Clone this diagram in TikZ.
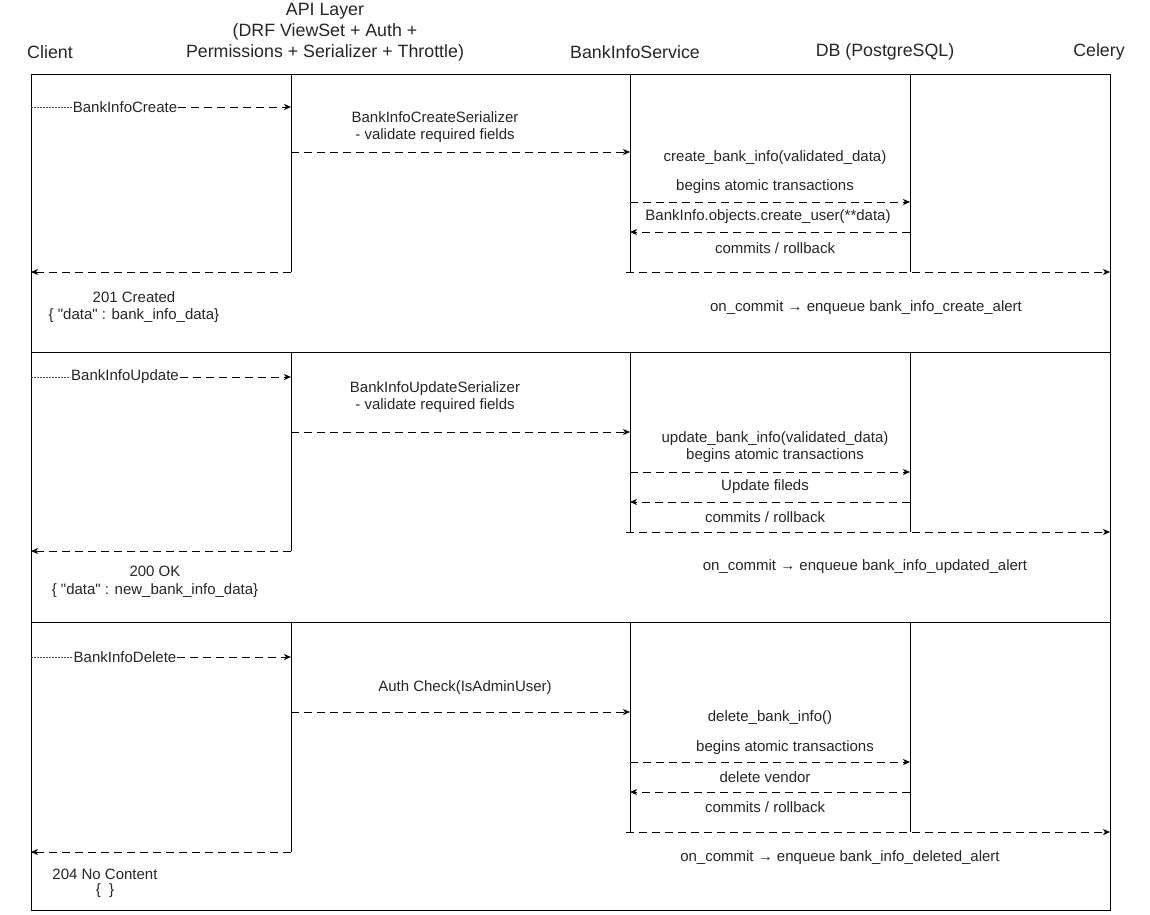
\documentclass[tikz,border=0pt]{standalone}
\usepackage{fontspec}
\setmainfont{Liberation Sans}
\newfontfamily\libsans{Liberation Sans}
\usetikzlibrary{arrows.meta}
\begin{document}
\begin{tikzpicture}[x=1pt,y=-1pt,
  txt/.style={font=\libsans\fontsize{15}{17.5}\selectfont, text=black!85, inner sep=1pt, align=center},
  hdr/.style={font=\libsans\fontsize{17.8}{21}\selectfont, text=black!85, inner sep=0pt, align=center},
  line/.style={line width=0.9pt, draw=black},
  msg/.style={line width=0.8pt, dash pattern=on 8pt off 5pt, -{Stealth[length=7pt,width=6pt,inset=2pt]}},
  dotseg/.style={line width=0.8pt, draw=black!70, dash pattern=on 1.5pt off 1.5pt}
]
\useasboundingbox (0,0) rectangle (1150,914);
% frame and section dividers
\coordinate (TL) at (31,74);
\coordinate (BR) at (1110,910);
\draw[line] (TL) rectangle (BR);
\coordinate (d1l) at (31,352); \coordinate (d1r) at (1110,352);
\coordinate (d2l) at (31,622); \coordinate (d2r) at (1110,622);
\draw[line] (d1l) -- (d1r);
\draw[line] (d2l) -- (d2r);

% headers
\node[hdr] (hClient) at (50,52) {Client};
\node[hdr] (hAPI) at (325,32) {API Layer\\(DRF ViewSet + Auth +\\Permissions + Serializer + Throttle)};
\node[hdr] (hSvc) at (635,52) {BankInfoService};
\node[hdr] (hDB) at (885,52) {DB (PostgreSQL)};
\node[hdr] (hCel) at (1099,52) {Celery};

% ================= Section 1 =================
\coordinate (a1t) at (291,74);  \coordinate (a1b) at (291,272);
\coordinate (s1t) at (630,74);  \coordinate (s1b) at (630,272);
\coordinate (b1t) at (910,74);  \coordinate (b1b) at (910,272);
\draw[line] (a1t) -- (a1b);
\draw[line] (s1t) -- (s1b);
\draw[line] (b1t) -- (b1b);

\coordinate (c1s) at (31,107); \coordinate (c1e) at (291,107);
\node[txt] (m1) at (125,107) {BankInfoCreate};
\draw[dotseg] (c1s) -- (m1.west);
\draw[msg] (m1.east) -- (c1e);

\node[txt] (ser1) at (435,127) {BankInfoCreateSerializer\\- validate required fields};
\coordinate (p1a) at (291,152); \coordinate (p1b) at (630,152);
\draw[msg] (p1a) -- (p1b);

\node[txt] (cr1) at (775,158) {create\_bank\_info(validated\_data)};
\node[txt] (bg1) at (765,187) {begins atomic transactions};
\coordinate (q1a) at (630,202); \coordinate (q1b) at (910,202);
\draw[msg] (q1a) -- (q1b);
\node[txt] (ob1) at (768,217) {BankInfo.objects.create\_user(**data)};
\coordinate (r1a) at (910,232); \coordinate (r1b) at (630,232);
\draw[msg] (r1a) -- (r1b);
\node[txt] (cm1) at (775,248) {commits / rollback};
\coordinate (k1a) at (626,272); \coordinate (k1b) at (1110,272);
\draw[msg] (k1a) -- (k1b);
\node[txt] (oc1) at (866,308) {on\_commit → enqueue bank\_info\_create\_alert};

\coordinate (ret1a) at (291,272); \coordinate (ret1b) at (31,272);
\draw[msg] (ret1a) -- (ret1b);
\node[txt] (rs1) at (134,307) {201 Created\\\{ "data" : bank\_info\_data\}};

% ================= Section 2 =================
\coordinate (a2t) at (291,352);  \coordinate (a2b) at (291,551);
\coordinate (s2t) at (630,352);  \coordinate (s2b) at (630,532);
\coordinate (b2t) at (910,352);  \coordinate (b2b) at (910,532);
\draw[line] (a2t) -- (a2b);
\draw[line] (s2t) -- (s2b);
\draw[line] (b2t) -- (b2b);

\coordinate (c2s) at (31,377); \coordinate (c2e) at (291,377);
\node[txt] (m2) at (125,377) {BankInfoUpdate};
\draw[dotseg] (c2s) -- (m2.west);
\draw[msg] (m2.east) -- (c2e);

\node[txt] (ser2) at (435,397) {BankInfoUpdateSerializer\\- validate required fields};
\coordinate (p2a) at (291,432); \coordinate (p2b) at (630,432);
\draw[msg] (p2a) -- (p2b);

\node[txt] (cr2) at (775,447) {update\_bank\_info(validated\_data)\\begins atomic transactions};
\coordinate (q2a) at (630,472); \coordinate (q2b) at (910,472);
\draw[msg] (q2a) -- (q2b);
\node[txt] (uf2) at (765,487) {Update fileds};
\coordinate (r2a) at (910,502); \coordinate (r2b) at (630,502);
\draw[msg] (r2a) -- (r2b);
\node[txt] (cm2) at (765,517) {commits / rollback};
\coordinate (k2a) at (626,532); \coordinate (k2b) at (1110,532);
\draw[msg] (k2a) -- (k2b);
\node[txt] (oc2) at (865,567) {on\_commit → enqueue bank\_info\_updated\_alert};

\coordinate (ret2a) at (291,551); \coordinate (ret2b) at (31,551);
\draw[msg] (ret2a) -- (ret2b);
\node[txt] (rs2) at (155,582) {200 OK\\\{ "data" : new\_bank\_info\_data\}};

% ================= Section 3 =================
\coordinate (a3t) at (291,622);  \coordinate (a3b) at (291,852);
\coordinate (s3t) at (630,622);  \coordinate (s3b) at (630,832);
\coordinate (b3t) at (910,622);  \coordinate (b3b) at (910,832);
\draw[line] (a3t) -- (a3b);
\draw[line] (s3t) -- (s3b);
\draw[line] (b3t) -- (b3b);

\coordinate (c3s) at (31,657); \coordinate (c3e) at (291,657);
\node[txt] (m3) at (125,657) {BankInfoDelete};
\draw[dotseg] (c3s) -- (m3.west);
\draw[msg] (m3.east) -- (c3e);

\node[txt] (au3) at (465,688) {Auth Check(IsAdminUser)};
\coordinate (p3a) at (291,712); \coordinate (p3b) at (630,712);
\draw[msg] (p3a) -- (p3b);

\node[txt] (dl3) at (770,718) {delete\_bank\_info()};
\node[txt] (bg3) at (785,748) {begins atomic transactions};
\coordinate (q3a) at (630,762); \coordinate (q3b) at (910,762);
\draw[msg] (q3a) -- (q3b);
\node[txt] (dv3) at (765,777) {delete vendor};
\coordinate (r3a) at (910,792); \coordinate (r3b) at (630,792);
\draw[msg] (r3a) -- (r3b);
\node[txt] (cm3) at (765,807) {commits / rollback};
\coordinate (k3a) at (626,832); \coordinate (k3b) at (1110,832);
\draw[msg] (k3a) -- (k3b);
\node[txt] (oc3) at (840,858) {on\_commit → enqueue bank\_info\_deleted\_alert};

\coordinate (ret3a) at (291,852); \coordinate (ret3b) at (31,852);
\draw[msg] (ret3a) -- (ret3b);
\node[txt] (rs3) at (105,874) {204 No Content};
\node[txt] (rb3) at (105,891) {\{\ \ \}};
\end{tikzpicture}
\end{document}
